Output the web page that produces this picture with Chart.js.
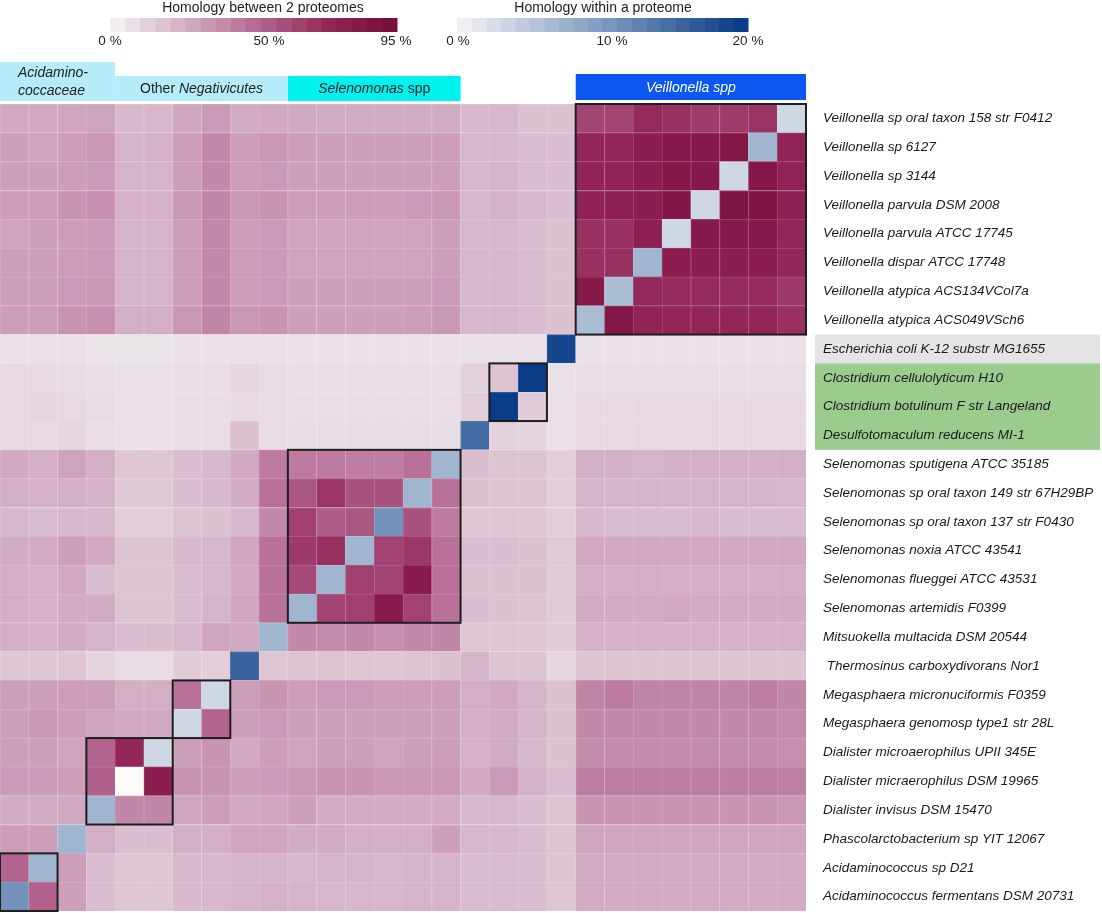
<!DOCTYPE html>
<html><head><meta charset="utf-8">
<script src="https://cdn.jsdelivr.net/npm/chart.js@4.4.0/dist/chart.umd.min.js"></script>
<style>html,body{margin:0;padding:0;background:#fff;}canvas{display:block;}</style>
</head><body>
<canvas id="c" width="1102" height="913"></canvas>
<script>
// Row genomes, top to bottom (columns are the same genomes, right to left)
const rowLabels = [
  'Veillonella sp oral taxon 158 str F0412','Veillonella sp 6127','Veillonella sp 3144',
  'Veillonella parvula DSM 2008','Veillonella parvula ATCC 17745','Veillonella dispar ATCC 17748',
  'Veillonella atypica ACS134VCol7a','Veillonella atypica ACS049VSch6',
  'Escherichia coli K-12 substr MG1655','Clostridium cellulolyticum H10',
  'Clostridium botulinum F str Langeland','Desulfotomaculum reducens MI-1',
  'Selenomonas sputigena ATCC 35185','Selenomonas sp oral taxon 149 str 67H29BP',
  'Selenomonas sp oral taxon 137 str F0430','Selenomonas noxia ATCC 43541',
  'Selenomonas flueggei ATCC 43531','Selenomonas artemidis F0399',
  'Mitsuokella multacida DSM 20544',' Thermosinus carboxydivorans Nor1',
  'Megasphaera micronuciformis F0359','Megasphaera genomosp type1 str 28L',
  'Dialister microaerophilus UPII 345E','Dialister micraerophilus DSM 19965',
  'Dialister invisus DSM 15470','Phascolarctobacterium sp YIT 12067',
  'Acidaminococcus sp D21','Acidaminococcus fermentans DSM 20731'
];
const colLabels = rowLabels.slice().reverse();

// Homology between 2 proteomes (%), one array per row, columns left to right; null = diagonal
const rVeil158   = [26,26,27,28,20,21,27,31,25,26, 26,25,25,25,25,25, 20,21,17,17, 62,62,72,70,65,65,69,null];
const rVeil6127  = [29,28,30,32,22,23,30,37,30,32, 30,29,29,29,29,30, 21,21,19,18, 74,74,80,85,85,86,null,76];
const rVeil3144  = [29,29,30,31,22,22,30,37,30,31, 29,29,29,29,29,30, 21,22,19,18, 75,75,80,86,85,null,86,76];
const rVparDSM   = [30,30,33,35,23,23,32,38,32,33, 30,30,30,30,31,32, 21,23,20,18, 77,78,80,88,null,90,90,78];
const rVparATCC  = [28,29,30,31,22,22,30,37,30,31, 28,28,28,28,28,29, 21,21,19,17, 70,70,78,null,84,84,84,74];
const rVdispar   = [29,29,30,31,22,22,30,37,30,31, 28,28,28,28,28,29, 21,21,19,17, 70,70,null,80,80,80,80,74];
const rVaty134   = [29,29,31,32,22,22,30,37,30,31, 29,29,29,29,29,31, 21,21,19,17, 84,null,73,72,72,72,72,66];
const rVaty049   = [30,30,33,35,24,24,32,38,32,33, 29,29,29,29,30,32, 21,21,19,17, null,87,75,74,74,74,74,70];
const rEcoli     = [4,5,5,3,3,3,4,4,5,5, 4,4,4,4,4,4, 5,5,5,null, 4,4,4,4,4,4,4,4];
const rCcellulo  = [8,8,7,6,5,5,6,6,9,7, 6,6,6,6,6,6, 11,16,null,5, 6,6,6,6,6,6,6,6];
const rCbotul    = [8,9,8,7,5,5,6,6,8,7, 6,6,6,6,6,6, 12,null,13,5, 8,8,8,8,8,8,8,8];
const rDesulfo   = [8,8,9,6,5,5,6,6,17,7, 7,7,7,7,7,7, null,11,10,5, 8,8,8,8,8,8,8,8];
const rSsputi    = [26,24,28,24,15,15,18,20,26,42, 42,42,41,41,45,null, 18,16,16,12, 24,24,22,24,24,24,24,24];
const rS149      = [24,23,24,23,14,14,18,20,25,45, 55,68,57,57,null,45, 17,16,16,12, 22,22,22,22,22,22,22,21];
const rS137      = [21,19,20,20,12,12,16,17,20,37, 64,53,55,null,57,42, 15,15,15,12, 20,19,19,19,20,19,19,19];
const rSnoxia    = [25,25,29,26,16,16,20,21,27,45, 66,70,null,63,67,45, 18,18,17,13, 26,26,26,26,26,26,26,26];
const rSflue     = [24,23,26,19,16,16,19,21,26,45, 60,null,64,62,82,45, 17,17,17,13, 24,24,24,24,24,24,24,24];
const rSartem    = [24,23,25,25,16,16,19,22,27,45, null,62,64,83,63,45, 18,17,16,13, 25,25,25,26,25,25,25,25];
const rMitsuo    = [24,23,25,22,18,18,20,27,26,null, 37,36,37,35,37,38, 15,15,15,13, 23,23,23,23,23,23,23,23];
const rThermo    = [15,15,15,10,7,7,13,12,null,15, 16,16,15,15,16,17, 22,16,16,9, 16,16,16,16,16,16,16,16];
const rMegMicro  = [29,29,30,30,24,24,45,null,30,33, 30,31,31,30,30,30, 24,26,22,17, 39,42,39,39,39,39,41,38];
const rMegGen    = [29,32,30,28,26,26,null,50,29,31, 29,29,29,29,29,29, 24,25,22,17, 37,37,37,37,37,37,37,36];
const rDiaUPII   = [29,29,28,50,74,null,29,33,26,30, 28,29,29,28,29,30, 23,25,21,17, 36,36,36,36,36,36,36,35];
const rDiaDSM    = [31,31,30,52,null,80,33,33,30,31, 32,33,33,32,32,32, 26,31,23,18, 41,41,41,41,41,41,41,40];
const rDiaInv    = [25,25,26,null,38,38,27,30,26,27, 29,25,25,25,25,25, 20,21,18,16, 33,33,33,33,33,33,33,32];
const rPhasco    = [30,30,null,24,18,18,24,24,27,27, 25,25,24,24,24,29, 21,20,19,16, 27,27,27,27,27,27,27,27];
const rAcidD21   = [50,null,30,18,15,15,20,20,22,22, 21,22,22,21,22,22, 19,19,18,16, 25,25,25,25,25,25,25,25];
const rAcidFerm  = [null,51,29,18,15,15,20,20,22,23, 22,21,21,21,22,22, 19,19,18,15, 25,25,25,25,25,25,25,25];
const betweenRows = [rVeil158,rVeil6127,rVeil3144,rVparDSM,rVparATCC,rVdispar,rVaty134,rVaty049,
  rEcoli,rCcellulo,rCbotul,rDesulfo,rSsputi,rS149,rS137,rSnoxia,rSflue,rSartem,rMitsuo,rThermo,
  rMegMicro,rMegGen,rDiaUPII,rDiaDSM,rDiaInv,rPhasco,rAcidD21,rAcidFerm];

// Homology within a proteome (%), diagonal cells, top to bottom (null = no value, white)
const withinProteome = [3,7,3,3,3,7,6,6, 19,20,20,15, 7,7,11,7,7,7, 7,16, 3,3,3,null,7, 7,7,11];

// Colour legends
const betweenTicks = [{t:'0 %',v:0},{t:'50 %',v:50},{t:'95 %',v:95}];
const withinTicks  = [{t:'0 %',v:0},{t:'10 %',v:10},{t:'20 %',v:20}];

// Outlined clusters (row index ranges) and header groups (column ranges)
const outlinedGroups = [[0,7],[9,10],[12,17],[20,21],[22,24],[26,27]];
const headerGroups = [
  {cols:[0,3],   lines:[[['Acidamino-',true]],[['coccaceae',true]]], fill:'#b6ecf9', color:'#222', top:62, align:'left'},
  {cols:[4,9],   lines:[[['Other ',false],['Negativicutes',true]]], fill:'#b6ecf9', color:'#222', top:76},
  {cols:[10,15], lines:[[['Selenomonas',true],[' spp',false]]], fill:'#00f2ef', color:'#222', top:76},
  {cols:[20,27], lines:[[['Veillonella spp',true]]], fill:'#0b57f0', color:'#fff', top:74, bottom:100}
];
const labelBands = [{from:8,to:8,color:'#e4e4e7'},{from:9,to:11,color:'#9bcb8d'}];

const N = rowLabels.length;
const pinkStops = [[0,[240,238,241]],[25,[210,172,194]],[50,[178,100,142]],[75,[145,35,85]],[95,[120,15,60]]];
const blueStops = [[0,[240,240,243]],[10,[125,155,192]],[20,[10,60,135]]];
function mix(stops, v) {
  if (v <= stops[0][0]) return stops[0][1];
  for (let i = 1; i < stops.length; i++) {
    const [v1, c1] = stops[i], [v0, c0] = stops[i-1];
    if (v <= v1) { const t = (v - v0) / (v1 - v0); return c0.map((a,k) => a + (c1[k]-a)*t); }
  }
  return stops[stops.length-1][1];
}
const rgb = c => 'rgb(' + c.map(Math.round).join(',') + ')';
function cellRGB(r, c) {
  if (c === N-1-r) { const w = withinProteome[r]; return w == null ? [255,251,251] : mix(blueStops, w); }
  return mix(pinkStops, betweenRows[r][c]);
}

const datasets = [];
for (let r = N-1; r >= 0; r--) {
  datasets.push({
    label: rowLabels[r],
    data: colLabels.map(() => 1),
    backgroundColor: ctx => rgb(cellRGB(r, ctx.dataIndex)),
    borderColor: ctx => rgb(cellRGB(r, ctx.dataIndex).map(a => a + (255-a)*0.15)),
    borderWidth: {top:1, left:1, right:0, bottom:0},
    borderSkipped: false,
    barPercentage: 1, categoryPercentage: 1
  });
}

const FONT = '"Liberation Sans", Arial, sans-serif';
function drawSegments(ctx, segs, x, y, align, size) {
  const widths = segs.map(([t, it]) => { ctx.font = (it?'italic ':'') + size + 'px ' + FONT; return ctx.measureText(t).width; });
  const total = widths.reduce((a,b)=>a+b,0);
  let cx = align === 'center' ? x - total/2 : x;
  ctx.textAlign = 'left'; ctx.textBaseline = 'middle';
  segs.forEach(([t, it], i) => { ctx.font = (it?'italic ':'') + size + 'px ' + FONT; ctx.fillText(t, cx, y); cx += widths[i]; });
}

const decor = {
  id: 'decor',
  beforeDraw(chart) {
    const {ctx} = chart, y = chart.scales.y;
    labelBands.forEach(b => {
      const top = y.getPixelForValue(N - b.from), bot = y.getPixelForValue(N - 1 - b.to);
      ctx.fillStyle = b.color; ctx.fillRect(815, top, 1100-815, bot-top);
    });
  },
  afterDatasetsDraw(chart) {
    const {ctx} = chart, x = chart.scales.x, y = chart.scales.y;
    const bw = x.width / N;
    ctx.save(); ctx.strokeStyle = '#1e1e1e'; ctx.lineWidth = 2;
    outlinedGroups.forEach(([r0, r1]) => {
      const left = x.getPixelForValue(N-1-r1) - bw/2, right = x.getPixelForValue(N-1-r0) + bw/2;
      const top = y.getPixelForValue(N - r0), bottom = y.getPixelForValue(N-1-r1);
      ctx.strokeRect(left, top, right-left, bottom-top);
    });
    ctx.restore();
  },
  afterDraw(chart) {
    const {ctx} = chart, x = chart.scales.x;
    const bw = x.width / N;
    ctx.save();
    headerGroups.forEach(g => {
      const left = x.getPixelForValue(g.cols[0]) - bw/2, right = x.getPixelForValue(g.cols[1]) + bw/2;
      const bottom = g.bottom || 101;
      ctx.fillStyle = g.fill; ctx.fillRect(left, g.top, right-left, bottom-g.top);
      ctx.fillStyle = g.color;
      if (g.align === 'left') {
        g.lines.forEach((l, i) => drawSegments(ctx, l, left + 18, 73 + i*18, 'left', 14));
      } else {
        drawSegments(ctx, g.lines[0], (left+right)/2, (g.top + bottom)/2 + 1, 'center', 14);
      }
    });
    function legend(title, titleX, x0, x1, stops, max, n, ticks) {
      ctx.fillStyle = '#222';
      drawSegments(ctx, [[title,false]], titleX, 8, 'center', 14);
      const w = (x1 - x0) / n;
      for (let i = 0; i < n; i++) {
        ctx.fillStyle = rgb(mix(stops, i * max / (n-1)));
        ctx.fillRect(x0 + i*w, 18, w + 0.5, 14);
      }
      ctx.fillStyle = '#222';
      ticks.forEach(tk => drawSegments(ctx, [[tk.t,false]], tk.x, 41, 'center', 13.5));
    }
    legend('Homology between 2 proteomes', 263, 110, 397, pinkStops, 95, 19,
      betweenTicks.map((tk,i) => ({t: tk.t, x: [110, 269, 396][i]})));
    legend('Homology within a proteome', 603, 457, 748, blueStops, 20, 20,
      withinTicks.map((tk,i) => ({t: tk.t, x: [458, 612, 748][i]})));
    ctx.restore();
  }
};

new Chart(document.getElementById('c'), {
  type: 'bar',
  data: { labels: colLabels, datasets },
  options: {
    responsive: false, animation: false,
    layout: { padding: { top: 104, bottom: 2, left: 0, right: 0 } },
    plugins: { legend: { display: false }, tooltip: { enabled: false } },
    scales: {
      x: { display: false, stacked: true },
      y: { display: false, stacked: true, min: 0, max: N },
      yLabels: {
        type: 'category', position: 'right', labels: rowLabels, offset: true,
        grid: { display: false, drawTicks: false }, border: { display: false },
        ticks: { autoSkip: false, padding: 17, color: '#1a1a1a', font: { family: FONT, size: 13.5, style: 'italic' } },
        afterFit(s) { s.width = 296; s.paddingTop = 0; s.paddingBottom = 0; }
      }
    }
  },
  plugins: [decor]
});
</script>
</body></html>
